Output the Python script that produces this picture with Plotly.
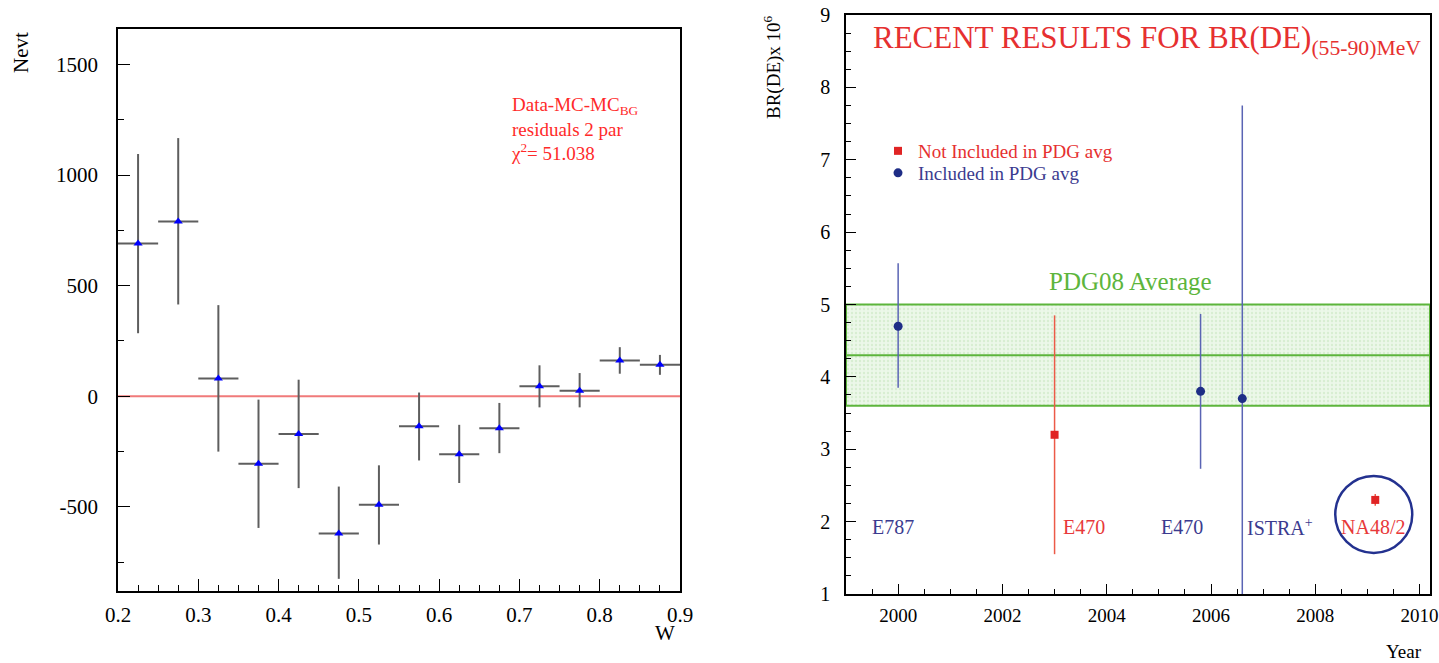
import plotly.graph_objects as go

# ---------------- Left panel data (residuals vs W) ----------------
w_centers = [0.225, 0.275, 0.325, 0.375, 0.425, 0.475, 0.525, 0.575, 0.625, 0.675, 0.725, 0.775, 0.825, 0.875]
w_halfwidth = [0.025] * 14
nevt = [690, 790, 80, -305, -170, -620, -490, -135, -262, -145, 45, 25, 162, 142]
nevt_err_up = [405, 377, 332, 290, 245, 212, 178, 152, 133, 115, 95, 80, 60, 45]
nevt_err_dn = [405, 375, 330, 290, 245, 205, 180, 155, 130, 112, 95, 75, 60, 45]
nevt_tickvals = [-500, 0, 500, 1000, 1500]
nevt_ticktext = ["-500", "0", "500", "1000", "1500"]

# ---------------- Right panel data (BR(DE) vs year) ----------------
incl_names = ["E787", "E470", "ISTRA+"]
incl_year = [2000.0, 2005.8, 2006.6]
incl_br = [4.7, 3.8, 3.7]
incl_err_up = [0.87, 1.07, 4.05]
incl_err_dn = [0.85, 1.07, 4.5]

notincl_names = ["E470", "NA48/2"]
notincl_year = [2003.0, 2009.15]
notincl_br = [3.2, 2.3]
notincl_err_up = [1.65, 0.08]
notincl_err_dn = [1.65, 0.08]

pdg_avg = 4.3
pdg_lo = 3.6
pdg_hi = 5.0

label_texts = ["E787", "E470", "E470", "ISTRA<sup>+</sup>", "NA48/2"]
label_years = [2000.0, 2003.0, 2005.8, 2006.6, 2009.1]
label_colors = ["#3b3b8f", "#e8393a", "#3b3b8f", "#3b3b8f", "#e8393a"]
label_anchor = ["center", "left", "right", "left", "center"]
label_shift = [-5, 6, 4, 3, 0]
label_row = 1.93

SERIF = "Liberation Serif"
RED = "#e63030"
BLUE_TXT = "#3b3b8f"
BLUE_LINE = "#5a64b4"
BLUE_MK = "#1e2d86"
GREEN = "#5db53c"

fig = go.Figure()

# Left panel
fig.add_trace(go.Scatter(
    x=w_centers, y=nevt, mode="markers", xaxis="x", yaxis="y",
    marker=dict(symbol="triangle-up", size=8, color="#0000ff"),
    error_y=dict(type="data", symmetric=False, array=nevt_err_up, arrayminus=nevt_err_dn,
                 color="#5e5e5e", thickness=2, width=0),
    error_x=dict(type="data", array=w_halfwidth, color="#5e5e5e", thickness=2, width=0),
    showlegend=False,
))

# Right panel: PDG band
fig.add_trace(go.Scatter(
    x=[1999, 2010.2, 2010.2, 1999, 1999], y=[pdg_lo, pdg_lo, pdg_hi, pdg_hi, pdg_lo],
    xaxis="x2", yaxis="y2", mode="lines", fill="toself",
    fillcolor="rgba(150,210,130,0.25)",
    fillpattern=dict(shape=".", fgcolor="rgba(120,190,100,0.35)", bgcolor="rgba(200,235,190,0.35)", size=4, solidity=0.3),
    line=dict(color=GREEN, width=2), showlegend=False, hoverinfo="skip",
))
fig.add_trace(go.Scatter(
    x=[1999, 2010.2], y=[pdg_avg, pdg_avg], xaxis="x2", yaxis="y2", mode="lines",
    line=dict(color=GREEN, width=2), showlegend=False, hoverinfo="skip",
))

fig.add_trace(go.Scatter(
    x=notincl_year, y=notincl_br, mode="markers", xaxis="x2", yaxis="y2",
    name="Not Included in PDG avg", legend="legend",
    marker=dict(symbol="square", size=8, color="#e02424"),
    error_y=dict(type="data", symmetric=False, array=notincl_err_up, arrayminus=notincl_err_dn,
                 color="#ec5a48", thickness=1.5, width=0),
))
fig.add_trace(go.Scatter(
    x=incl_year, y=incl_br, mode="markers", xaxis="x2", yaxis="y2",
    name="Included in PDG avg", legend="legend2",
    marker=dict(symbol="circle", size=9, color=BLUE_MK),
    error_y=dict(type="data", symmetric=False, array=incl_err_up, arrayminus=incl_err_dn,
                 color=BLUE_LINE, thickness=1.5, width=0),
))

axis_common = dict(showgrid=False, zeroline=False, showline=True, mirror=True, automargin=False,
                   linecolor="black", linewidth=1.5, ticks="inside", tickcolor="black",
                   ticklabeloverflow="allow")

fig.update_layout(
    width=1439, height=663,
    margin=dict(l=0, r=0, t=0, b=0, autoexpand=False),
    paper_bgcolor="white", plot_bgcolor="white",
    xaxis=dict(domain=[118/1439, 680/1439], range=[0.2, 0.9], tick0=0.2, dtick=0.1,
               ticklen=12, tickwidth=1.3, ticklabelstandoff=4,
               tickfont=dict(family=SERIF, size=21, color="black"),
               minor=dict(dtick=0.025, ticks="inside", ticklen=6, tickcolor="black"),
               anchor="y", **axis_common),
    yaxis=dict(domain=[1 - 591/663, 1 - 29/663], range=[-880, 1660],
               tickmode="array", tickvals=nevt_tickvals, ticktext=nevt_ticktext,
               ticklen=12, tickwidth=1.3, ticklabelstandoff=14,
               tickfont=dict(family=SERIF, size=21, color="black"),
               minor=dict(tickmode="linear", tick0=0, dtick=250, ticks="inside", ticklen=6, tickcolor="black"),
               anchor="x", **axis_common),
    xaxis2=dict(domain=[846/1439, 1430/1439], range=[1999, 2010.2], tick0=2000, dtick=2,
                ticklen=10, tickwidth=1.3, ticklabelstandoff=3,
                tickfont=dict(family=SERIF, size=19, color="black"),
                minor=dict(dtick=0.5, ticks="inside", ticklen=5, tickcolor="black"),
                anchor="y2", **axis_common),
    yaxis2=dict(domain=[1 - 594/663, 1 - 15/663], range=[1, 9], dtick=1,
                ticklen=10, tickwidth=1.3, ticklabelstandoff=10,
                tickfont=dict(family=SERIF, size=20, color="black"),
                minor=dict(dtick=0.25, ticks="inside", ticklen=5, tickcolor="black"),
                anchor="x2", **axis_common),
    legend=dict(x=878/1439, y=1 - 132/663, xanchor="left", yanchor="top",
                bgcolor="rgba(0,0,0,0)", itemwidth=30,
                font=dict(family=SERIF, size=19, color="#e63030"), tracegroupgap=0),
    legend2=dict(x=878/1439, y=1 - 154/663, xanchor="left", yanchor="top",
                 bgcolor="rgba(0,0,0,0)", itemwidth=30,
                 font=dict(family=SERIF, size=19, color=BLUE_TXT), tracegroupgap=0),
)

# zero line on left panel
fig.add_shape(type="line", xref="x domain", yref="y", x0=0, x1=1, y0=0, y1=0,
              line=dict(color="#f07a7a", width=2), layer="below")

# circle around NA48/2
fig.add_shape(type="circle", xref="x2", yref="y2",
              xsizemode="pixel", ysizemode="pixel",
              xanchor=notincl_year[1], yanchor=notincl_br[1],
              x0=-40, x1=37, y0=-53, y1=24,
              line=dict(color="#23318f", width=2.5))

annotations = []
# left annotation
annotations.append(dict(xref="paper", yref="paper", x=509/1439, y=1 - 92/663, xanchor="left", yanchor="top",
                        text="Data-MC-MC<sub>BG</sub><br>residuals 2 par<br>χ<sup>2</sup>= 51.038",
                        showarrow=False, align="left",
                        font=dict(family=SERIF, size=19, color="#ff2a2a")))
# axis titles
annotations.append(dict(xref="paper", yref="paper", x=21/1439, y=1 - 53/663, text="Nevt", textangle=-90,
                        xanchor="center", yanchor="middle",
                        showarrow=False, font=dict(family=SERIF, size=21, color="black")))
annotations.append(dict(xref="paper", yref="paper", x=665/1439, y=1 - 633/663, text="W",
                        xanchor="center", yanchor="middle",
                        showarrow=False, font=dict(family=SERIF, size=21, color="black")))
annotations.append(dict(xref="paper", yref="paper", x=1404/1439, y=1 - 651/663, text="Year",
                        xanchor="center", yanchor="middle",
                        showarrow=False, font=dict(family=SERIF, size=19, color="black")))
annotations.append(dict(xref="paper", yref="paper", x=773/1439, y=1 - 67/663, text="BR(DE)x 10<sup>6</sup>",
                        xanchor="center", yanchor="middle",
                        textangle=-90, showarrow=False, font=dict(family=SERIF, size=19, color="black")))
# right title
annotations.append(dict(xref="paper", yref="paper", x=871/1439, y=1 - 40/663, xanchor="left", yanchor="middle",
                        text="RECENT RESULTS FOR BR(DE)<sub>(55-90)MeV</sub>", showarrow=False,
                        font=dict(family=SERIF, size=31, color=RED)))
# PDG label
annotations.append(dict(xref="x2", yref="y2", x=2004.45, y=pdg_hi, yanchor="bottom", yshift=8,
                        text="PDG08 Average", showarrow=False,
                        font=dict(family=SERIF, size=25, color=GREEN)))
# experiment labels
for t, xv, c, a, s in zip(label_texts, label_years, label_colors, label_anchor, label_shift):
    annotations.append(dict(xref="x2", yref="y2", x=xv, y=label_row, xanchor=a, xshift=s,
                            text=t, showarrow=False, font=dict(family=SERIF, size=20, color=c)))

fig.update_layout(annotations=annotations)

fig.write_html("out.html")
